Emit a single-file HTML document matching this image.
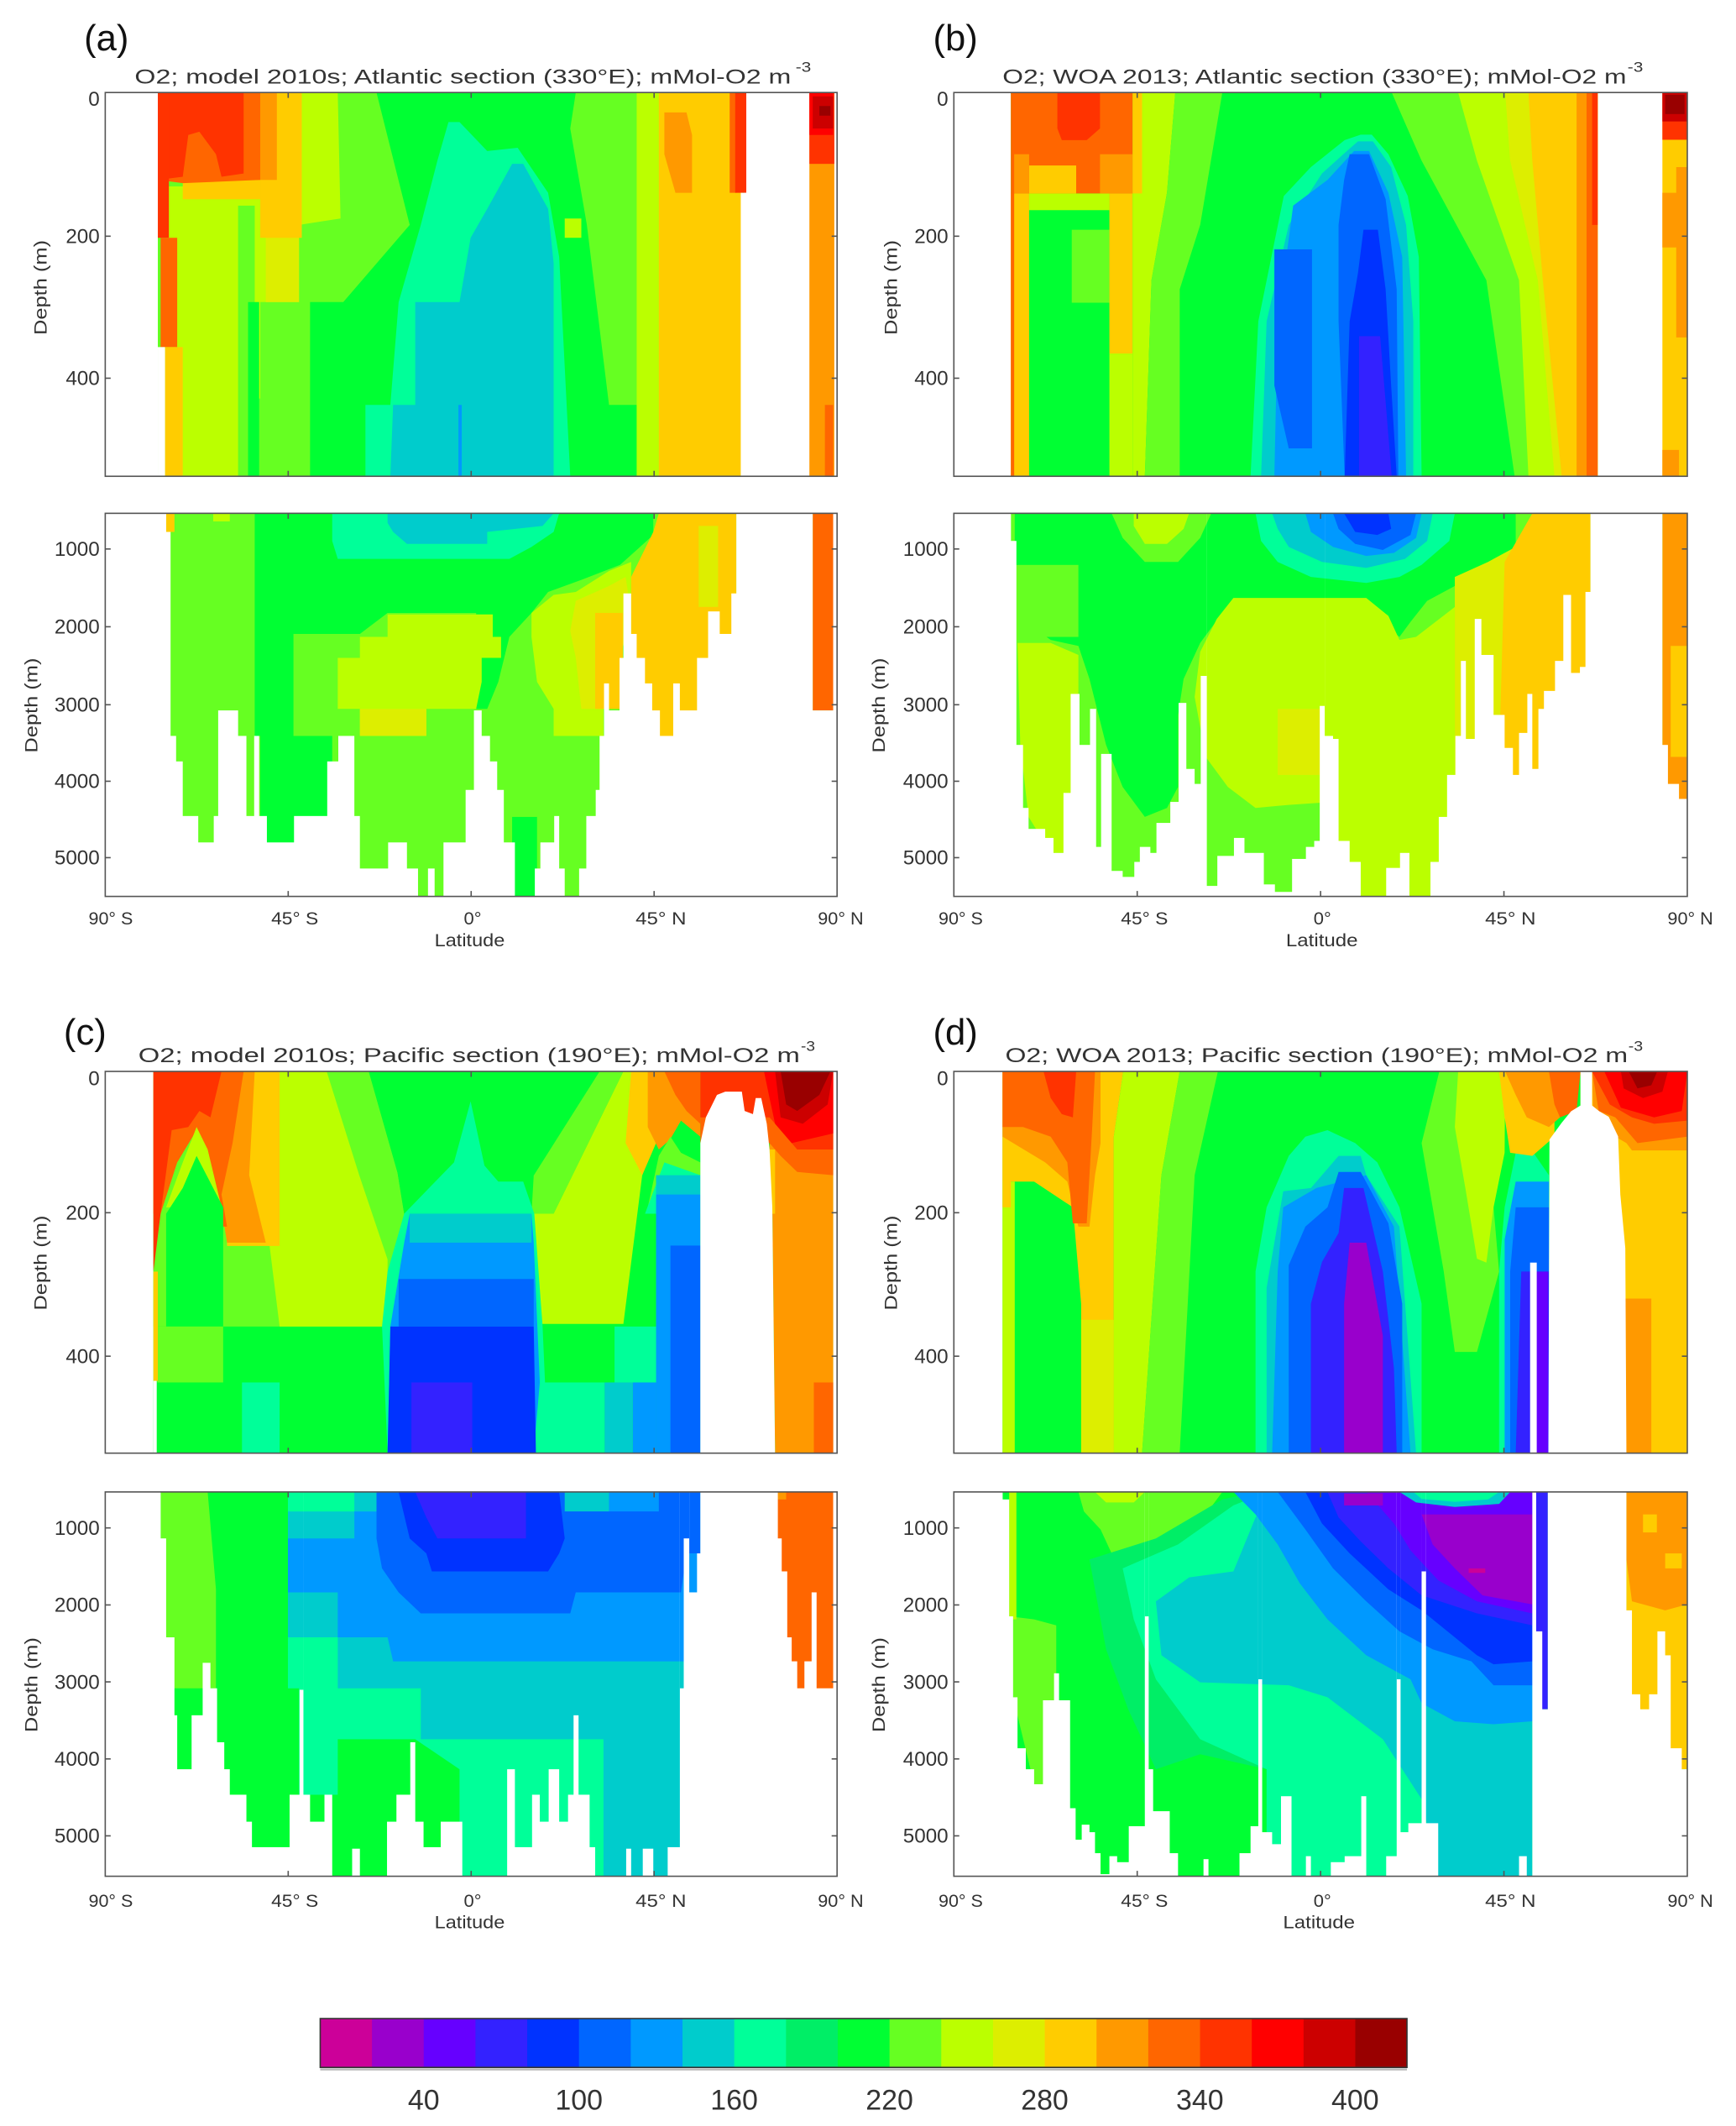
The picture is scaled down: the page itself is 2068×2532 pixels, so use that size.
<!DOCTYPE html>
<html><head><meta charset="utf-8">
<style>
html,body{margin:0;padding:0;background:#fff}
svg{display:block}
.c0{fill:#CC0099}.c1{fill:#9900CC}.c2{fill:#6600FF}.c3{fill:#3322FF}.c4{fill:#0033FF}.c5{fill:#0066FF}.c6{fill:#0099FF}.c7{fill:#00CCCC}.c8{fill:#00FF99}.c9{fill:#00EE66}.c10{fill:#00FF33}.c11{fill:#66FF22}.c12{fill:#BBFF00}.c13{fill:#DDEE00}.c14{fill:#FFCC00}.c15{fill:#FF9900}.c16{fill:#FF6600}.c17{fill:#FF3300}.c18{fill:#FF0000}.c19{fill:#CC0000}.c20{fill:#990000}
.w{fill:#fff}
text{font-family:"Liberation Sans",Arial,sans-serif;fill:#333}
.t{font-size:15px}
.xl{font-size:13px}
.pl{font-size:27px;fill:#111}
.ti{font-size:15px}
.sup{font-size:10px}
.fr{fill:none;stroke:#555;stroke-width:1}
.tk{fill:none;stroke:#555;stroke-width:1}
</style></head>
<body>
<svg width="2068" height="2532" viewBox="0 0 1280 1567.2" xmlns="http://www.w3.org/2000/svg">
<rect width="1280" height="1567.2" fill="#fff"/>

<!-- ================= PANEL A TOP ================= -->
<svg x="77.6" y="68.2" width="539.6" height="282.9" viewBox="190 288 1322 1194" preserveAspectRatio="none">
<rect class="c10" x="285" y="288" width="1060" height="1194"/>
<polygon class="c11" points="285,288 680,288 740,700 620,940 560,940 560,1482 285,1482"/>
<polygon class="c12" points="300,580 545,580 545,288 610,288 615,680 540,700 540,940 470,940 470,1240 440,1240 440,1482 300,1482"/>
<rect class="c11" x="430" y="640" width="30" height="842"/>
<rect class="c10" x="448" y="940" width="20" height="542"/>
<rect class="c13" x="480" y="700" width="60" height="240"/>
<rect class="c14" x="470" y="288" width="75" height="452"/>
<rect class="c14" x="330" y="540" width="140" height="80"/>
<rect class="c15" x="440" y="288" width="60" height="272"/>
<polygon class="c16" points="285,288 470,288 470,560 330,570 285,560"/>
<polygon class="c17" points="285,288 440,288 440,540 400,550 390,480 360,410 340,420 330,550 285,560"/>
<rect class="c17" x="285" y="288" width="20" height="452"/>
<rect class="c16" x="290" y="740" width="30" height="340"/>
<rect class="c14" x="298" y="1080" width="32" height="402"/>
<rect class="w" x="285" y="1080" width="13" height="402"/>
<polygon class="c11" points="1040,288 1190,288 1190,1482 1150,1482 1150,1260 1100,1260 1060,700 1030,400"/>
<rect class="c12" x="1150" y="288" width="45" height="1194"/>
<rect class="c14" x="1190" y="288" width="150" height="1194"/>
<polygon class="c15" points="1200,350 1240,350 1250,420 1250,600 1220,600 1200,480"/>
<rect class="c16" x="1318" y="288" width="12" height="312"/>
<rect class="c17" x="1328" y="288" width="20" height="312"/>
<rect class="w" x="1338" y="600" width="10" height="882"/>
<polygon class="c8" points="810,380 830,380 880,470 935,460 990,600 1010,800 1030,1482 660,1482 660,1260 705,1260 720,940 760,700 790,500"/>
<polygon class="c7" points="925,510 945,510 990,650 1000,820 1000,1482 705,1482 710,1260 750,1260 750,940 830,940 850,740 880,650"/>
<rect class="c6" x="828" y="1260" width="6" height="222"/>
<rect class="c12" x="1020" y="680" width="30" height="60"/>
<rect class="c15" x="1462" y="288" width="45" height="1194"/>
<rect class="c17" x="1462" y="288" width="45" height="222"/>
<rect class="c18" x="1462" y="288" width="43" height="132"/>
<rect class="c19" x="1468" y="300" width="37" height="100"/>
<rect class="c20" x="1480" y="330" width="20" height="30"/>
<rect class="c16" x="1490" y="1260" width="15" height="222"/>
</svg>

<!-- ================= PANEL A BOTTOM ================= -->
<svg x="77.6" y="378.4" width="539.6" height="282.4" viewBox="190 88 1322 1277" preserveAspectRatio="none">
<defs><clipPath id="ma">
<rect x="300" y="88" width="9" height="62"/><rect x="308" y="88" width="11" height="742"/><rect x="318" y="88" width="13" height="827"/><rect x="330" y="88" width="29" height="1009"/><rect x="358" y="88" width="28" height="1097"/><rect x="385" y="88" width="9" height="1009"/><rect x="393" y="88" width="38" height="657"/><rect x="430" y="88" width="16" height="742"/><rect x="445" y="88" width="14" height="1009"/><rect x="458" y="88" width="11" height="742"/><rect x="468" y="88" width="15" height="1009"/><rect x="482" y="88" width="49" height="1097"/><rect x="530" y="88" width="61" height="1009"/><rect x="590" y="88" width="21" height="827"/><rect x="610" y="88" width="31" height="742"/><rect x="640" y="88" width="11" height="1009"/><rect x="650" y="88" width="51" height="1184"/><rect x="700" y="88" width="36" height="1097"/><rect x="735" y="88" width="21" height="1184"/><rect x="755" y="88" width="18" height="1277"/><rect x="772" y="88" width="14" height="1184"/><rect x="785" y="88" width="16" height="1277"/><rect x="800" y="88" width="41" height="1097"/><rect x="840" y="88" width="16" height="922"/><rect x="855" y="88" width="16" height="657"/><rect x="870" y="88" width="16" height="742"/><rect x="885" y="88" width="14" height="827"/><rect x="898" y="88" width="13" height="922"/><rect x="910" y="88" width="21" height="1097"/><rect x="930" y="88" width="36" height="1277"/><rect x="965" y="88" width="11" height="1184"/><rect x="975" y="88" width="26" height="1097"/><rect x="1000" y="88" width="11" height="1009"/><rect x="1010" y="88" width="11" height="1184"/><rect x="1020" y="88" width="26" height="1277"/><rect x="1045" y="88" width="14" height="1184"/><rect x="1058" y="88" width="18" height="1009"/><rect x="1075" y="88" width="8" height="922"/><rect x="1082" y="88" width="9" height="742"/><rect x="1090" y="88" width="11" height="567"/><rect x="1100" y="88" width="19" height="657"/><rect x="1118" y="88" width="8" height="482"/><rect x="1125" y="88" width="16" height="267"/><rect x="1140" y="88" width="11" height="402"/><rect x="1150" y="88" width="16" height="482"/><rect x="1165" y="88" width="14" height="567"/><rect x="1178" y="88" width="15" height="657"/><rect x="1192" y="88" width="24" height="742"/><rect x="1215" y="88" width="14" height="567"/><rect x="1228" y="88" width="31" height="657"/><rect x="1258" y="88" width="21" height="482"/><rect x="1278" y="88" width="23" height="327"/><rect x="1300" y="88" width="21" height="402"/><rect x="1320" y="88" width="10" height="267"/><rect x="1468" y="88" width="37" height="657"/>
</clipPath></defs>
<g clip-path="url(#ma)">
<rect class="c11" x="290" y="88" width="1220" height="1277"/>
<polygon class="c10" points="460,88 1180,88 1180,160 1120,260 1050,310 990,350 960,420 920,500 900,650 880,740 860,740 860,420 700,420 650,490 530,490 530,830 600,830 600,1365 470,1365 470,830 460,830"/>
<rect class="c10" x="925" y="1100" width="45" height="265"/>
<polygon class="c8" points="600,88 1010,88 1000,150 960,200 920,240 610,240 600,180"/>
<polygon class="c7" points="700,88 1000,88 980,130 880,150 880,190 735,190 710,150 700,120"/>
<polygon class="c12" points="700,425 890,425 890,500 905,500 905,570 870,570 870,650 860,740 770,740 770,830 650,830 650,740 610,740 610,570 650,570 650,500 700,500"/>
<rect class="c13" x="650" y="740" width="120" height="90"/>
<polygon class="c12" points="960,420 1000,360 1040,350 1100,280 1140,250 1140,490 1100,570 1090,740 1090,830 1000,830 1000,740 970,650 960,500"/>
<polygon class="c13" points="1040,380 1100,330 1130,300 1140,420 1120,570 1100,740 1050,740 1040,570 1030,480"/>
<rect class="c14" x="1075" y="420" width="50" height="320"/>
<polygon class="c14" points="1190,88 1330,88 1330,1365 1140,1365 1140,300 1180,150"/>
<rect class="c13" x="1262" y="130" width="35" height="270"/>
<rect class="c14" x="300" y="88" width="15" height="62"/>
<rect class="c12" x="385" y="88" width="30" height="27"/>
<rect class="c16" x="1468" y="88" width="37" height="657"/>
</g>
</svg>

<!-- ================= PANEL B TOP ================= -->
<svg x="703.3" y="68.2" width="540.8" height="282.9" viewBox="155 288 1325 1194" preserveAspectRatio="none">
<rect class="c10" x="258" y="288" width="1060" height="1194"/>
<rect class="c14" x="258" y="602" width="33" height="880"/>
<polygon class="c10" points="291,654 436,654 436,1482 291,1482"/>
<rect class="c11" x="368" y="715" width="68" height="227"/>
<rect class="c14" x="436" y="602" width="42" height="498"/>
<rect class="c12" x="436" y="1100" width="42" height="382"/>
<polygon class="c12" points="478,288 555,288 540,600 512,872 500,1482 478,1482 478,600"/>
<polygon class="c11" points="555,288 640,288 600,700 563,900 563,1482 500,1482 512,872 540,600"/>
<rect class="c12" x="291" y="602" width="145" height="52"/>
<rect class="c16" x="258" y="288" width="220" height="314"/>
<rect class="c15" x="419" y="480" width="59" height="122"/>
<polygon class="c17" points="342,288 419,288 419,400 395,436 350,436 342,400"/>
<rect class="c14" x="291" y="515" width="85" height="87"/>
<rect class="c15" x="264" y="480" width="27" height="122"/>
<rect class="c14" x="478" y="288" width="17" height="314"/>
<rect class="c16" x="258" y="600" width="6" height="882"/>
<polygon class="c11" points="946,288 1318,288 1318,1482 1168,1482 1117,872 1000,500"/>
<polygon class="c12" points="1066,288 1318,288 1318,1482 1193,1482 1176,872 1100,500"/>
<polygon class="c13" points="1151,288 1318,288 1318,1482 1240,1482 1210,872 1160,500"/>
<polygon class="c14" points="1193,288 1318,288 1318,1482 1253,1482 1219,872 1200,500"/>
<rect class="c15" x="1280" y="288" width="38" height="1194"/>
<rect class="c16" x="1298" y="288" width="20" height="1194"/>
<rect class="c17" x="1308" y="288" width="10" height="412"/>
<polygon class="c8" points="890,419 910,419 940,480 975,610 995,800 1000,1482 691,1482 705,1000 751,610 800,520 861,436"/>
<polygon class="c7" points="885,440 912,440 945,520 972,700 985,1000 985,1482 710,1482 720,1000 760,700 820,540 865,470"/>
<polygon class="c6" points="878,470 905,470 940,600 965,800 972,1482 734,1482 740,1000 768,640 830,560"/>
<polygon class="c5" points="870,480 905,480 935,620 955,900 958,1482 861,1482 850,1000 850,700 860,560"/>
<polygon class="c5" points="734,776 802,776 802,1395 760,1395 734,1200"/>
<polygon class="c4" points="895,715 921,715 935,900 945,1200 955,1482 861,1482 870,1000 885,850"/>
<polygon class="c3" points="887,1046 925,1046 935,1250 946,1482 887,1482"/>
<rect class="c14" x="1435" y="288" width="45" height="1194"/>
<rect class="c15" x="1435" y="600" width="30" height="170"/>
<rect class="c15" x="1460" y="520" width="20" height="530"/>
<rect class="c15" x="1435" y="1400" width="30" height="82"/>
<rect class="c17" x="1435" y="288" width="45" height="147"/>
<rect class="c19" x="1435" y="288" width="45" height="90"/>
<rect class="c20" x="1440" y="295" width="35" height="60"/>
</svg>

<!-- ================= PANEL B BOTTOM ================= -->
<svg x="703.3" y="378.4" width="540.8" height="282.4" viewBox="155 88 1325 1277" preserveAspectRatio="none">
<defs><clipPath id="mb">
<rect x="258" y="88" width="11" height="92"/><rect x="268" y="88" width="13" height="772"/><rect x="280" y="88" width="11" height="982"/><rect x="290" y="88" width="31" height="1052"/><rect x="320" y="88" width="16" height="1082"/><rect x="335" y="88" width="18" height="1132"/><rect x="352" y="88" width="14" height="932"/><rect x="365" y="88" width="18" height="602"/><rect x="382" y="88" width="19" height="772"/><rect x="400" y="88" width="13" height="652"/><rect x="412" y="88" width="9" height="1112"/><rect x="420" y="88" width="21" height="802"/><rect x="440" y="88" width="21" height="1192"/><rect x="460" y="88" width="21" height="1212"/><rect x="480" y="88" width="11" height="1162"/><rect x="490" y="88" width="21" height="1112"/><rect x="510" y="88" width="11" height="1132"/><rect x="520" y="88" width="26" height="1032"/><rect x="545" y="88" width="16" height="962"/><rect x="560" y="88" width="16" height="632"/><rect x="575" y="88" width="16" height="852"/><rect x="590" y="88" width="11" height="902"/><rect x="600" y="88" width="12" height="542"/><rect x="612" y="88" width="19" height="1242"/><rect x="630" y="88" width="31" height="1142"/><rect x="660" y="88" width="21" height="1082"/><rect x="680" y="88" width="36" height="1132"/><rect x="715" y="88" width="21" height="1237"/><rect x="735" y="88" width="31" height="1262"/><rect x="765" y="88" width="26" height="1152"/><rect x="790" y="88" width="16" height="1112"/><rect x="805" y="88" width="11" height="1092"/><rect x="815" y="88" width="10" height="642"/><rect x="825" y="88" width="16" height="742"/><rect x="840" y="88" width="11" height="752"/><rect x="850" y="88" width="21" height="1092"/><rect x="870" y="88" width="21" height="1162"/><rect x="890" y="88" width="46" height="1277"/><rect x="935" y="88" width="26" height="1182"/><rect x="960" y="88" width="19" height="1132"/><rect x="978" y="88" width="38" height="1277"/><rect x="1015" y="88" width="16" height="1162"/><rect x="1030" y="88" width="16" height="1012"/><rect x="1045" y="88" width="16" height="872"/><rect x="1060" y="88" width="11" height="742"/><rect x="1070" y="88" width="11" height="492"/><rect x="1080" y="88" width="16" height="752"/><rect x="1095" y="88" width="14" height="352"/><rect x="1108" y="88" width="23" height="472"/><rect x="1130" y="88" width="21" height="672"/><rect x="1150" y="88" width="16" height="782"/><rect x="1165" y="88" width="11" height="872"/><rect x="1175" y="88" width="16" height="732"/><rect x="1190" y="88" width="11" height="602"/><rect x="1200" y="88" width="11" height="852"/><rect x="1210" y="88" width="11" height="652"/><rect x="1220" y="88" width="21" height="592"/><rect x="1240" y="88" width="16" height="492"/><rect x="1255" y="88" width="16" height="272"/><rect x="1270" y="88" width="16" height="532"/><rect x="1285" y="88" width="11" height="512"/><rect x="1295" y="88" width="10" height="262"/><rect x="1435" y="88" width="11" height="772"/><rect x="1445" y="88" width="21" height="902"/><rect x="1465" y="88" width="15" height="952"/>
</clipPath></defs>
<g clip-path="url(#mb)">
<rect class="c11" x="255" y="88" width="1230" height="1277"/>
<polygon class="c10" points="265,88 1170,88 1170,220 1110,300 1060,330 1010,380 980,450 960,500 940,470 920,400 860,380 700,380 640,420 600,520 570,640 560,760 560,1000 540,1070 500,1100 460,1000 430,860 400,640 380,530 330,510 300,470 265,420"/>
<rect class="c11" x="265" y="260" width="115" height="240"/>
<polygon class="c11" points="440,88 620,88 600,170 560,250 500,250 460,170"/>
<polygon class="c12" points="480,88 580,88 570,140 540,190 500,190 480,130"/>
<polygon class="c8" points="700,88 1060,88 1050,180 1000,260 960,300 900,320 800,300 740,250 710,180"/>
<polygon class="c7" points="730,88 1020,88 1010,180 970,240 900,270 820,250 760,200 740,140"/>
<polygon class="c6" points="790,88 1000,88 990,170 950,220 900,230 840,200 800,150"/>
<polygon class="c5" points="840,88 990,88 980,160 930,210 880,190 850,140"/>
<polygon class="c4" points="860,88 940,88 945,140 920,160 880,150"/>
<polygon class="c12" points="660,370 900,370 940,430 960,510 990,500 1060,400 1060,1365 860,1365 840,1050 760,1060 700,1070 650,1000 610,900 590,700 600,550 630,440"/>
<polygon class="c12" points="270,520 330,520 380,560 380,700 370,900 360,1220 330,1220 290,1100 275,860"/>
<polygon class="c13" points="1060,300 1120,250 1170,200 1170,1365 1060,1365"/>
<polygon class="c14" points="1150,250 1200,88 1305,88 1305,1365 1140,1365 1140,900"/>
<rect class="c13" x="740" y="740" width="80" height="220"/>
<rect class="c15" x="1435" y="88" width="45" height="952"/>
<rect class="c14" x="1450" y="530" width="30" height="370"/>
</g>
</svg>

<!-- ================= PANEL C TOP ================= -->
<svg x="77.6" y="789.8" width="539.6" height="281.4" viewBox="190 277 1322 1188" preserveAspectRatio="none">
<rect class="c10" x="277" y="277" width="1228" height="1188"/>
<polygon class="c11" points="277,277 666,277 718,592 730,720 700,1071 277,1071"/>
<polygon class="c12" points="505,277 590,277 649,601 700,862 700,1071 505,1071 471,601"/>
<polygon class="c14" points="440,277 505,277 505,820 410,820 410,700 440,650"/>
<polygon class="c15" points="400,277 460,277 450,600 480,810 410,810 395,650"/>
<polygon class="c16" points="277,277 440,277 420,500 400,660 410,760 390,760 370,560 355,460 320,560 290,720 277,720"/>
<polygon class="c17" points="277,277 400,277 380,420 360,400 340,450 310,460 290,720 277,900"/>
<polygon class="c12" points="355,450 375,520 400,700 300,700 330,560"/>
<polygon class="c10" points="355,540 403,700 403,1071 300,1071 300,720 330,640"/>
<rect class="c11" x="284" y="1071" width="119" height="174"/>
<rect class="c14" x="277" y="900" width="8" height="340"/>
<rect class="w" x="277" y="1240" width="6" height="225"/>
<rect class="c8" x="437" y="1245" width="68" height="220"/>
<polygon class="c10" points="666,277 1083,277 964,601 960,720 730,720 718,592"/>
<polygon class="c11" points="1083,277 1126,277 1000,720 960,720 964,601"/>
<polygon class="c12" points="1126,277 1151,277 1185,480 1160,600 1126,1063 964,1063 964,720 1000,720"/>
<polygon class="c14" points="1140,277 1185,277 1190,480 1160,600 1130,500"/>
<polygon class="c15" points="1170,277 1265,277 1265,480 1230,430 1210,490 1190,520 1170,450"/>
<polygon class="c16" points="1200,277 1265,277 1265,440 1240,400 1220,350"/>
<polygon class="c11" points="1211,480 1230,530 1265,560 1265,700 1170,700 1190,540"/>
<polygon class="c8" points="1200,560 1265,600 1265,720 1165,720"/>
<rect class="c7" x="1185" y="600" width="80" height="60"/>
<rect class="c6" x="1185" y="660" width="80" height="805"/>
<rect class="c5" x="1211" y="819" width="54" height="646"/>
<rect class="c8" x="1110" y="1071" width="75" height="174"/>
<rect class="c8" x="981" y="1245" width="111" height="220"/>
<rect class="c7" x="1092" y="1245" width="51" height="220"/>
<rect class="c6" x="1143" y="1245" width="42" height="220"/>
<polygon class="c8" points="820,560 850,370 875,570 900,620 945,620 965,720 980,1070 990,1465 700,1465 690,1070 700,900 730,720"/>
<polygon class="c6" points="740,720 960,720 964,810 975,1245 964,1465 700,1465 705,1071 730,810"/>
<rect class="c7" x="740" y="720" width="220" height="90"/>
<rect class="c5" x="720" y="923" width="244" height="148"/>
<polygon class="c4" points="705,1071 964,1071 968,1465 700,1465"/>
<rect class="c3" x="743" y="1245" width="110" height="220"/>
<polygon class="c15" points="1390,277 1505,277 1505,1465 1400,1465 1395,700 1390,520"/>
<polygon class="c16" points="1265,277 1505,277 1505,600 1440,590 1410,540 1390,500 1265,500"/>
<polygon class="c17" points="1265,277 1505,277 1505,520 1440,520 1410,460 1390,420 1265,420"/>
<polygon class="c18" points="1380,277 1505,277 1505,470 1430,500 1400,440 1390,360"/>
<polygon class="c19" points="1400,277 1505,277 1495,380 1450,440 1410,420"/>
<polygon class="c20" points="1410,277 1500,277 1480,350 1440,400 1420,380"/>
<rect class="c16" x="1470" y="1245" width="35" height="220"/>
<rect class="c14" x="1390" y="520" width="10" height="200"/>
<polygon class="w" points="1265,1465 1265,500 1275,420 1295,350 1310,340 1340,340 1345,400 1360,410 1365,360 1375,360 1385,440 1390,520 1395,700 1400,1465"/>
</svg>

<!-- ================= PANEL C BOTTOM ================= -->
<svg x="77.6" y="1099.8" width="539.6" height="283.3" viewBox="190 75 1322 1282" preserveAspectRatio="none">
<defs><clipPath id="mc">
<rect x="290" y="75" width="11" height="155"/><rect x="300" y="75" width="16" height="485"/><rect x="315" y="75" width="6" height="745"/><rect x="320" y="75" width="26" height="925"/><rect x="345" y="75" width="21" height="745"/><rect x="365" y="75" width="16" height="570"/><rect x="380" y="75" width="13" height="655"/><rect x="392" y="75" width="14" height="835"/><rect x="405" y="75" width="11" height="925"/><rect x="415" y="75" width="31" height="1010"/><rect x="445" y="75" width="11" height="1100"/><rect x="455" y="75" width="68" height="1185"/><rect x="522" y="75" width="19" height="1010"/><rect x="540" y="75" width="8" height="660"/><rect x="548" y="75" width="13" height="1010"/><rect x="560" y="75" width="26" height="1100"/><rect x="585" y="75" width="16" height="1010"/><rect x="600" y="75" width="36" height="1282"/><rect x="635" y="75" width="16" height="1190"/><rect x="650" y="75" width="49" height="1282"/><rect x="698" y="75" width="18" height="1100"/><rect x="715" y="75" width="26" height="1010"/><rect x="740" y="75" width="11" height="835"/><rect x="750" y="75" width="16" height="1100"/><rect x="765" y="75" width="31" height="1185"/><rect x="795" y="75" width="41" height="1100"/><rect x="835" y="75" width="81" height="1282"/><rect x="915" y="75" width="16" height="925"/><rect x="930" y="75" width="31" height="1185"/><rect x="960" y="75" width="16" height="1010"/><rect x="975" y="75" width="16" height="1100"/><rect x="990" y="75" width="21" height="925"/><rect x="1010" y="75" width="16" height="1100"/><rect x="1025" y="75" width="11" height="1010"/><rect x="1035" y="75" width="11" height="745"/><rect x="1045" y="75" width="21" height="1010"/><rect x="1065" y="75" width="11" height="1185"/><rect x="1075" y="75" width="56" height="1282"/><rect x="1130" y="75" width="11" height="1190"/><rect x="1140" y="75" width="21" height="1282"/><rect x="1160" y="75" width="21" height="1190"/><rect x="1180" y="75" width="26" height="1282"/><rect x="1205" y="75" width="23" height="1185"/><rect x="1228" y="75" width="7" height="655"/><rect x="1235" y="75" width="10" height="155"/><rect x="1245" y="75" width="14" height="335"/><rect x="1258" y="75" width="7" height="205"/><rect x="1405" y="75" width="8" height="155"/><rect x="1412" y="75" width="11" height="265"/><rect x="1422" y="75" width="9" height="485"/><rect x="1430" y="75" width="11" height="565"/><rect x="1440" y="75" width="13" height="655"/><rect x="1452" y="75" width="14" height="565"/><rect x="1465" y="75" width="11" height="335"/><rect x="1475" y="75" width="30" height="655"/>
</clipPath></defs>
<g clip-path="url(#mc)">
<rect class="c10" x="285" y="75" width="1225" height="1282"/>
<polygon class="c11" points="290,75 375,75 390,400 390,730 300,730 290,560"/>
<polygon class="c8" points="520,75 1265,75 1265,1357 830,1357 830,1000 750,900 610,900 610,1085 540,1085 540,730 520,730"/>
<polygon class="c7" points="520,140 640,140 640,75 1265,75 1265,1357 1090,1357 1090,900 760,900 760,730 610,730 610,560 520,560"/>
<polygon class="c6" points="520,230 640,230 640,140 720,140 720,75 1265,75 1265,640 710,640 700,560 610,560 610,410 520,410"/>
<polygon class="c5" points="680,75 1265,75 1265,280 1240,280 1230,410 1040,410 1030,480 760,480 720,410 690,330 680,230"/>
<polygon class="c4" points="720,75 1010,75 1020,230 1010,280 990,340 920,340 780,340 770,280 740,230"/>
<polygon class="c3" points="750,75 950,75 950,230 790,230 770,160"/>
<rect class="c7" x="1020" y="75" width="80" height="65"/>
<rect class="c6" x="1100" y="75" width="90" height="65"/>
<rect class="c16" x="1400" y="75" width="110" height="1282"/>
<rect class="c15" x="1405" y="75" width="15" height="25"/>
</g>
</svg>

<!-- ================= PANEL D TOP ================= -->
<svg x="703.3" y="789.8" width="540.8" height="281.4" viewBox="155 277 1325 1188" preserveAspectRatio="none">
<rect class="c10" x="243" y="277" width="1237" height="1188"/>
<polygon class="c14" points="243,277 461,277 444,480 444,1465 385,1465 385,1000 370,700 300,620 243,620"/>
<rect class="c13" x="385" y="1050" width="59" height="415"/>
<rect class="c12" x="243" y="620" width="22" height="845"/>
<rect class="c14" x="243" y="480" width="15" height="220"/>
<polygon class="c15" points="243,277 420,277 420,500 410,600 400,760 380,760 360,620 320,560 243,480"/>
<polygon class="c16" points="243,277 410,277 405,450 400,600 395,750 370,750 360,560 330,480 280,450 243,450"/>
<polygon class="c17" points="317,277 376,277 370,420 350,410 330,360"/>
<polygon class="c12" points="461,277 563,277 530,600 495,1465 444,1465 444,480"/>
<polygon class="c11" points="563,277 632,277 590,600 563,1465 495,1465 530,600"/>
<polygon class="c8" points="760,540 790,480 830,460 880,500 920,560 960,700 1000,1000 1000,1465 700,1465 700,900 720,700"/>
<polygon class="c7" points="850,540 890,540 900,600 960,760 990,1465 720,1465 720,950 750,650 800,640"/>
<polygon class="c6" points="810,640 900,600 950,760 980,1465 730,1465 740,900 750,700"/>
<polygon class="c5" points="850,590 890,590 940,750 965,1000 965,1465 760,1465 760,880 790,760 830,700"/>
<polygon class="c3" points="860,640 895,640 930,900 950,1200 955,1465 800,1465 800,1000 820,870 850,780"/>
<polygon class="c1" points="870,810 900,810 930,1100 930,1465 860,1465 860,1000"/>
<polygon class="c11" points="1032,277 1066,277 1100,500 1130,700 1140,900 1100,1150 1060,1150 1040,900 1020,700 1000,500"/>
<polygon class="c12" points="1066,277 1151,277 1150,530 1130,700 1117,872 1100,860 1080,650 1060,450"/>
<polygon class="c8" points="1170,530 1202,530 1230,600 1230,1465 1140,1465 1140,900 1150,700"/>
<polygon class="c6" points="1170,620 1230,620 1230,1465 1150,1465 1150,800"/>
<polygon class="c5" points="1170,700 1230,700 1230,1465 1160,1465 1160,900"/>
<polygon class="c3" points="1180,900 1230,900 1230,1465 1170,1465"/>
<rect class="c2" x="1207" y="900" width="21" height="565"/>
<rect class="w" x="1196" y="872" width="12" height="593"/>
<polygon class="c14" points="1140,277 1240,277 1240,480 1200,540 1160,530 1150,420"/>
<polygon class="c15" points="1151,277 1261,277 1250,420 1230,450 1190,420 1170,350"/>
<polygon class="c16" points="1230,277 1287,277 1280,400 1250,420 1240,380"/>
<rect class="c14" x="1287" y="277" width="193" height="1188"/>
<polygon class="c15" points="1308,277 1480,277 1480,523 1380,523 1370,500 1340,470 1310,420"/>
<rect class="c15" x="1368" y="984" width="47" height="481"/>
<polygon class="c16" points="1308,277 1480,277 1480,480 1390,500 1350,420 1320,400"/>
<polygon class="c17" points="1308,277 1480,277 1480,430 1420,440 1380,420 1340,380"/>
<polygon class="c18" points="1330,277 1480,277 1470,400 1420,420 1360,390"/>
<polygon class="c19" points="1360,277 1445,277 1435,340 1400,360 1365,330"/>
<polygon class="c20" points="1375,280 1425,280 1415,320 1390,330"/>
<polygon class="w" points="1229,1465 1231,489 1253,437 1270,401 1287,383 1287,277 1308,277 1308,383 1321,401 1338,418 1355,479 1359,660 1368,827 1370,1465"/>
</svg>

<!-- ================= PANEL D BOTTOM ================= -->
<svg x="703.3" y="1099.8" width="540.8" height="283.3" viewBox="155 75 1325 1282" preserveAspectRatio="none">
<defs><clipPath id="md">
<rect x="243" y="75" width="13" height="25"/><rect x="255" y="75" width="8" height="415"/><rect x="262" y="75" width="9" height="685"/><rect x="270" y="75" width="16" height="855"/><rect x="285" y="75" width="16" height="925"/><rect x="300" y="75" width="16" height="975"/><rect x="315" y="75" width="21" height="695"/><rect x="335" y="75" width="11" height="605"/><rect x="345" y="75" width="21" height="695"/><rect x="365" y="75" width="11" height="1055"/><rect x="375" y="75" width="11" height="1160"/><rect x="385" y="75" width="16" height="1110"/><rect x="400" y="75" width="11" height="1135"/><rect x="410" y="75" width="11" height="1205"/><rect x="420" y="75" width="16" height="1275"/><rect x="435" y="75" width="16" height="1215"/><rect x="450" y="75" width="21" height="1235"/><rect x="470" y="75" width="30" height="1115"/><rect x="500" y="75" width="7" height="415"/><rect x="507" y="75" width="9" height="925"/><rect x="515" y="75" width="31" height="1065"/><rect x="545" y="75" width="16" height="1205"/><rect x="560" y="75" width="46" height="1282"/><rect x="605" y="75" width="11" height="1225"/><rect x="615" y="75" width="56" height="1282"/><rect x="670" y="75" width="21" height="1205"/><rect x="690" y="75" width="15" height="1115"/><rect x="705" y="75" width="7" height="625"/><rect x="712" y="75" width="19" height="1135"/><rect x="730" y="75" width="16" height="1175"/><rect x="745" y="75" width="21" height="1015"/><rect x="765" y="75" width="26" height="1282"/><rect x="790" y="75" width="11" height="1215"/><rect x="800" y="75" width="36" height="1282"/><rect x="835" y="75" width="26" height="1235"/><rect x="860" y="75" width="31" height="1215"/><rect x="890" y="75" width="11" height="1015"/><rect x="900" y="75" width="36" height="1282"/><rect x="935" y="75" width="20" height="1215"/><rect x="955" y="75" width="7" height="625"/><rect x="962" y="75" width="14" height="1135"/><rect x="975" y="75" width="25" height="1105"/><rect x="1000" y="75" width="8" height="265"/><rect x="1008" y="75" width="23" height="1105"/><rect x="1030" y="75" width="146" height="1282"/><rect x="1175" y="75" width="16" height="1215"/><rect x="1190" y="75" width="10" height="1282"/><rect x="1207" y="75" width="12" height="465"/><rect x="1218" y="75" width="10" height="725"/><rect x="1370" y="75" width="11" height="395"/><rect x="1380" y="75" width="16" height="675"/><rect x="1395" y="75" width="16" height="725"/><rect x="1410" y="75" width="16" height="675"/><rect x="1425" y="75" width="16" height="465"/><rect x="1440" y="75" width="11" height="545"/><rect x="1450" y="75" width="21" height="855"/><rect x="1470" y="75" width="10" height="925"/>
</clipPath></defs>
<g clip-path="url(#md)">
<rect class="c10" x="240" y="75" width="1245" height="1282"/>
<polygon class="c11" points="255,490 300,500 340,520 340,1050 300,1050 262,760"/>
<rect class="c12" x="255" y="75" width="13" height="425"/>
<polygon class="c11" points="380,75 640,75 610,150 500,250 440,280 420,200 390,140"/>
<polygon class="c12" points="410,75 500,75 480,110 430,110"/>
<polygon class="c9" points="400,300 520,230 640,100 700,75 720,75 720,1000 600,950 520,1000 470,800 430,600"/>
<polygon class="c8" points="460,330 560,250 660,120 720,75 760,75 800,300 900,700 1000,1000 1030,1357 720,1357 720,1000 600,900 520,700 480,500"/>
<polygon class="c7" points="520,440 580,360 660,340 700,160 740,75 1200,75 1200,1357 1030,1357 1000,1100 930,900 830,760 760,720 600,710 530,620"/>
<polygon class="c6" points="660,75 1200,75 1200,840 1130,850 1060,840 1000,780 980,700 900,620 830,500 780,380 740,250 700,150"/>
<polygon class="c5" points="740,75 1200,75 1200,720 1130,720 1090,640 1020,600 960,540 900,440 840,330 790,200"/>
<polygon class="c4" points="790,75 1200,75 1200,640 1130,650 1100,620 1060,560 1000,470 940,400 870,280 820,180"/>
<polygon class="c3" points="830,75 1200,75 1200,520 1100,480 1000,420 940,330 890,240 850,160"/>
<polygon class="c2" points="900,75 1200,75 1200,480 1100,440 1030,370 980,270 950,180"/>
<polygon class="c1" points="1000,150 1200,150 1200,450 1110,420 1060,330 1020,250"/>
<rect class="c0" x="1085" y="330" width="30" height="15"/>
<rect class="c1" x="860" y="80" width="70" height="40"/>
<polygon class="c7" points="960,75 1160,75 1140,115 1060,125 990,110"/>
<polygon class="c8" points="985,75 1140,75 1120,100 1060,108 1000,98"/>
<rect class="c3" x="1207" y="75" width="21" height="725"/>
<rect class="c14" x="1370" y="75" width="110" height="925"/>
<polygon class="c15" points="1370,75 1480,75 1480,450 1440,470 1380,440 1370,300"/>
<rect class="c14" x="1400" y="150" width="25" height="60"/>
<rect class="c14" x="1440" y="280" width="30" height="50"/>
</g>
</svg>

<!-- ================= FRAMES & TICKS ================= -->
<g>
<rect class="fr" x="77.6" y="68.2" width="539.6" height="282.9"/>
<rect class="fr" x="77.6" y="378.4" width="539.6" height="282.4"/>
<rect class="fr" x="703.3" y="68.2" width="540.8" height="282.9"/>
<rect class="fr" x="703.3" y="378.4" width="540.8" height="282.4"/>
<rect class="fr" x="77.6" y="789.8" width="539.6" height="281.4"/>
<rect class="fr" x="77.6" y="1099.8" width="539.6" height="283.3"/>
<rect class="fr" x="703.3" y="789.8" width="540.8" height="281.4"/>
<rect class="fr" x="703.3" y="1099.8" width="540.8" height="283.3"/>
<path class="tk" d="M212.5,68.2v4M347.4,68.2v4M482.3,68.2v4M212.5,351.1v-4M347.4,351.1v-4M482.3,351.1v-4M77.6,174.1h4M77.6,278.8h4M617.2,174.1h-4M617.2,278.8h-4
M212.5,378.4v4M347.4,378.4v4M482.3,378.4v4M212.5,660.8v-4M347.4,660.8v-4M482.3,660.8v-4M77.6,404.7h4M77.6,462h4M77.6,519.5h4M77.6,575.9h4M77.6,632.2h4M617.2,404.7h-4M617.2,462h-4M617.2,519.5h-4M617.2,575.9h-4M617.2,632.2h-4
M838.5,68.2v4M973.7,68.2v4M1108.9,68.2v4M838.5,351.1v-4M973.7,351.1v-4M1108.9,351.1v-4M703.3,174.1h4M703.3,278.8h4M1244.1,174.1h-4M1244.1,278.8h-4
M838.5,378.4v4M973.7,378.4v4M1108.9,378.4v4M838.5,660.8v-4M973.7,660.8v-4M1108.9,660.8v-4M703.3,404.7h4M703.3,462h4M703.3,519.5h4M703.3,575.9h4M703.3,632.2h4M1244.1,404.7h-4M1244.1,462h-4M1244.1,519.5h-4M1244.1,575.9h-4M1244.1,632.2h-4
M212.5,789.8v4M347.4,789.8v4M482.3,789.8v4M212.5,1071.2v-4M347.4,1071.2v-4M482.3,1071.2v-4M77.6,894h4M77.6,999.7h4M617.2,894h-4M617.2,999.7h-4
M212.5,1099.8v4M347.4,1099.8v4M482.3,1099.8v4M212.5,1383.1v-4M347.4,1383.1v-4M482.3,1383.1v-4M77.6,1126.3h4M77.6,1183.1h4M77.6,1239.8h4M77.6,1296.6h4M77.6,1353.3h4M617.2,1126.3h-4M617.2,1183.1h-4M617.2,1239.8h-4M617.2,1296.6h-4M617.2,1353.3h-4
M838.5,789.8v4M973.7,789.8v4M1108.9,789.8v4M838.5,1071.2v-4M973.7,1071.2v-4M1108.9,1071.2v-4M703.3,894h4M703.3,999.7h4M1244.1,894h-4M1244.1,999.7h-4
M838.5,1099.8v4M973.7,1099.8v4M1108.9,1099.8v4M838.5,1383.1v-4M973.7,1383.1v-4M1108.9,1383.1v-4M703.3,1126.3h4M703.3,1183.1h4M703.3,1239.8h4M703.3,1296.6h4M703.3,1353.3h4M1244.1,1126.3h-4M1244.1,1183.1h-4M1244.1,1239.8h-4M1244.1,1296.6h-4M1244.1,1353.3h-4"/>
</g>

<!-- ================= TEXT ================= -->
<text class="pl" x="62" y="37">(a)</text>
<text class="pl" x="688" y="37">(b)</text>
<text class="pl" x="47" y="770">(c)</text>
<text class="pl" x="688" y="770">(d)</text>

<text class="ti" x="99.3" y="61.5" textLength="484" lengthAdjust="spacingAndGlyphs">O2; model 2010s; Atlantic section (330°E); mMol-O2 m</text>
<text class="sup" x="586.6" y="53" textLength="11.5" lengthAdjust="spacingAndGlyphs">-3</text>
<text class="ti" x="739.2" y="61.5" textLength="460" lengthAdjust="spacingAndGlyphs">O2; WOA 2013; Atlantic section (330°E); mMol-O2 m</text>
<text class="sup" x="1200" y="53" textLength="11.5" lengthAdjust="spacingAndGlyphs">-3</text>
<text class="ti" x="102" y="783" textLength="487.8" lengthAdjust="spacingAndGlyphs">O2; model 2010s; Pacific section (190°E);  mMol-O2 m</text>
<text class="sup" x="590.5" y="774.5" textLength="10.5" lengthAdjust="spacingAndGlyphs">-3</text>
<text class="ti" x="741.2" y="783" textLength="459" lengthAdjust="spacingAndGlyphs">O2; WOA 2013; Pacific section (190°E); mMol-O2 m</text>
<text class="sup" x="1200.6" y="774.5" textLength="10.8" lengthAdjust="spacingAndGlyphs">-3</text>

<g class="t" text-anchor="end">
<text x="73.5" y="78">0</text><text x="73.5" y="179.2">200</text><text x="73.5" y="283.9">400</text>
<text x="73.5" y="409.7">1000</text><text x="73.5" y="467">2000</text><text x="73.5" y="524.5">3000</text><text x="73.5" y="580.9">4000</text><text x="73.5" y="637.2">5000</text>
<text x="699.2" y="78">0</text><text x="699.2" y="179.2">200</text><text x="699.2" y="283.9">400</text>
<text x="699.2" y="409.7">1000</text><text x="699.2" y="467">2000</text><text x="699.2" y="524.5">3000</text><text x="699.2" y="580.9">4000</text><text x="699.2" y="637.2">5000</text>
<text x="73.5" y="800">0</text><text x="73.5" y="899.1">200</text><text x="73.5" y="1004.8">400</text>
<text x="73.5" y="1131.4">1000</text><text x="73.5" y="1188.2">2000</text><text x="73.5" y="1244.9">3000</text><text x="73.5" y="1301.7">4000</text><text x="73.5" y="1358.4">5000</text>
<text x="699.2" y="800">0</text><text x="699.2" y="899.1">200</text><text x="699.2" y="1004.8">400</text>
<text x="699.2" y="1131.4">1000</text><text x="699.2" y="1188.2">2000</text><text x="699.2" y="1244.9">3000</text><text x="699.2" y="1301.7">4000</text><text x="699.2" y="1358.4">5000</text>
</g>

<g class="xl" text-anchor="middle">
<text transform="translate(34.5,212) rotate(-90)" textLength="70" lengthAdjust="spacingAndGlyphs">Depth (m)</text>
<text transform="translate(27.5,520) rotate(-90)" textLength="70" lengthAdjust="spacingAndGlyphs">Depth (m)</text>
<text transform="translate(661.5,212) rotate(-90)" textLength="70" lengthAdjust="spacingAndGlyphs">Depth (m)</text>
<text transform="translate(652.5,520) rotate(-90)" textLength="70" lengthAdjust="spacingAndGlyphs">Depth (m)</text>
<text transform="translate(34.5,931) rotate(-90)" textLength="70" lengthAdjust="spacingAndGlyphs">Depth (m)</text>
<text transform="translate(27.5,1242) rotate(-90)" textLength="70" lengthAdjust="spacingAndGlyphs">Depth (m)</text>
<text transform="translate(661.5,931) rotate(-90)" textLength="70" lengthAdjust="spacingAndGlyphs">Depth (m)</text>
<text transform="translate(652.5,1242) rotate(-90)" textLength="70" lengthAdjust="spacingAndGlyphs">Depth (m)</text>
</g>

<g class="xl">
<text x="65.3" y="681.5" textLength="32.7" lengthAdjust="spacingAndGlyphs">90° S</text>
<text x="200" y="681.5" textLength="34.7" lengthAdjust="spacingAndGlyphs">45° S</text>
<text x="342" y="681.5" textLength="13" lengthAdjust="spacingAndGlyphs">0°</text>
<text x="468.6" y="681.5" textLength="37.4" lengthAdjust="spacingAndGlyphs">45° N</text>
<text x="603" y="681.5" textLength="33.7" lengthAdjust="spacingAndGlyphs">90° N</text>
<text x="320.4" y="697.5" textLength="51.8" lengthAdjust="spacingAndGlyphs">Latitude</text>

<text x="692" y="681.5" textLength="32.7" lengthAdjust="spacingAndGlyphs">90° S</text>
<text x="826.5" y="681.5" textLength="34.7" lengthAdjust="spacingAndGlyphs">45° S</text>
<text x="968.5" y="681.5" textLength="13" lengthAdjust="spacingAndGlyphs">0°</text>
<text x="1095" y="681.5" textLength="37.4" lengthAdjust="spacingAndGlyphs">45° N</text>
<text x="1229.5" y="681.5" textLength="33.7" lengthAdjust="spacingAndGlyphs">90° N</text>
<text x="948.2" y="697.5" textLength="53" lengthAdjust="spacingAndGlyphs">Latitude</text>

<text x="65.3" y="1405.5" textLength="32.7" lengthAdjust="spacingAndGlyphs">90° S</text>
<text x="200" y="1405.5" textLength="34.7" lengthAdjust="spacingAndGlyphs">45° S</text>
<text x="342" y="1405.5" textLength="13" lengthAdjust="spacingAndGlyphs">0°</text>
<text x="468.6" y="1405.5" textLength="37.4" lengthAdjust="spacingAndGlyphs">45° N</text>
<text x="603" y="1405.5" textLength="33.7" lengthAdjust="spacingAndGlyphs">90° N</text>
<text x="320.4" y="1421.5" textLength="51.8" lengthAdjust="spacingAndGlyphs">Latitude</text>

<text x="692" y="1405.5" textLength="32.7" lengthAdjust="spacingAndGlyphs">90° S</text>
<text x="826.5" y="1405.5" textLength="34.7" lengthAdjust="spacingAndGlyphs">45° S</text>
<text x="968.5" y="1405.5" textLength="13" lengthAdjust="spacingAndGlyphs">0°</text>
<text x="1095" y="1405.5" textLength="37.4" lengthAdjust="spacingAndGlyphs">45° N</text>
<text x="1229.5" y="1405.5" textLength="33.7" lengthAdjust="spacingAndGlyphs">90° N</text>
<text x="946" y="1421.5" textLength="53" lengthAdjust="spacingAndGlyphs">Latitude</text>
</g>

<!-- ================= COLORBAR ================= -->
<g>
<rect class="c0" x="236.1" y="1488" width="38.6" height="36"/>
<rect class="c1" x="274.26" y="1488" width="38.6" height="36"/>
<rect class="c2" x="312.42" y="1488" width="38.6" height="36"/>
<rect class="c3" x="350.58" y="1488" width="38.6" height="36"/>
<rect class="c4" x="388.74" y="1488" width="38.6" height="36"/>
<rect class="c5" x="426.9" y="1488" width="38.6" height="36"/>
<rect class="c6" x="465.06" y="1488" width="38.6" height="36"/>
<rect class="c7" x="503.22" y="1488" width="38.6" height="36"/>
<rect class="c8" x="541.38" y="1488" width="38.6" height="36"/>
<rect class="c9" x="579.54" y="1488" width="38.6" height="36"/>
<rect class="c10" x="617.7" y="1488" width="38.6" height="36"/>
<rect class="c11" x="655.86" y="1488" width="38.6" height="36"/>
<rect class="c12" x="694.02" y="1488" width="38.6" height="36"/>
<rect class="c13" x="732.18" y="1488" width="38.6" height="36"/>
<rect class="c14" x="770.34" y="1488" width="38.6" height="36"/>
<rect class="c15" x="808.5" y="1488" width="38.6" height="36"/>
<rect class="c16" x="846.66" y="1488" width="38.6" height="36"/>
<rect class="c17" x="884.82" y="1488" width="38.6" height="36"/>
<rect class="c18" x="922.98" y="1488" width="38.6" height="36"/>
<rect class="c19" x="961.14" y="1488" width="38.6" height="36"/>
<rect class="c20" x="999.3" y="1488" width="38.1" height="36"/>
<rect x="236.1" y="1488" width="801.3" height="36" fill="none" stroke="#333" stroke-width="1"/>
<line x1="236.1" y1="1525.5" x2="1037.4" y2="1525.5" stroke="#bbb" stroke-width="1.5"/>
</g>
<g text-anchor="middle" style="font-size:21px">
<text x="312.4" y="1555">40</text>
<text x="426.9" y="1555">100</text>
<text x="541.3" y="1555">160</text>
<text x="655.8" y="1555">220</text>
<text x="770.3" y="1555">280</text>
<text x="884.7" y="1555">340</text>
<text x="999.2" y="1555">400</text>
</g>
</svg>
</body></html>
